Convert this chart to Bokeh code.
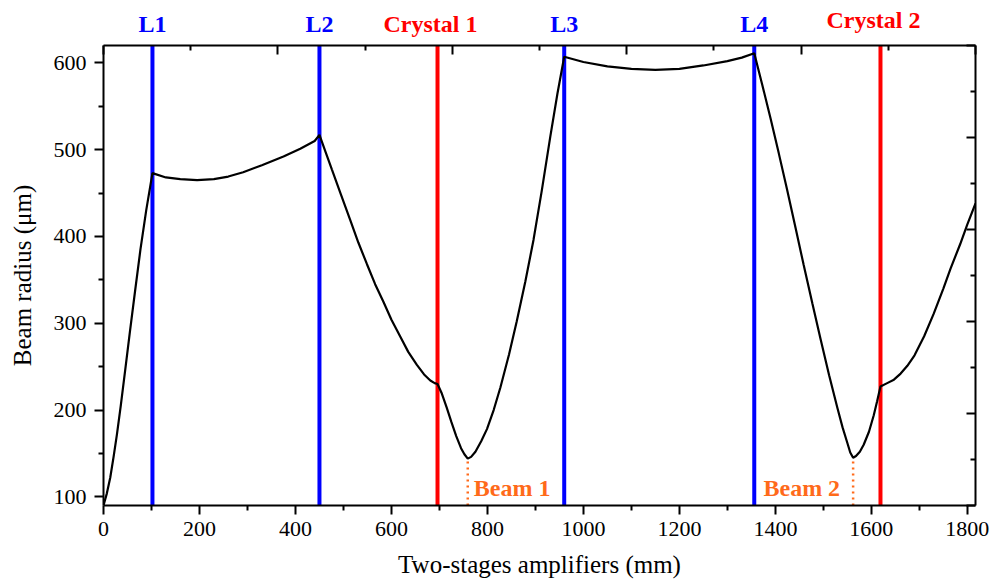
from bokeh.plotting import figure
from bokeh.layouts import column
from bokeh.models import (Range1d, LinearAxis, FixedTicker, Span, Label, CustomJSTickFormatter)
from bokeh.core.properties import value
from bokeh.embed import file_html
from bokeh.resources import INLINE

# ---- data ----
x_mm = [0, 7, 14, 21, 28, 36, 45, 55, 66, 77, 89, 102,
        130, 160, 195, 230, 260, 291, 330, 375, 410, 440, 450,
        463, 476, 495, 514, 531, 549, 566, 583, 600, 618, 635, 653, 668, 681, 690, 696,
        705, 715, 725, 735, 745, 752, 759, 766, 775, 787, 799, 813, 827, 845, 861, 879,
        896, 913, 931, 946, 960,
        1000, 1050, 1100, 1150, 1200, 1250, 1300, 1330, 1356,
        1373, 1390, 1407, 1424, 1442, 1459, 1477, 1494, 1512, 1529, 1540, 1550, 1556,
        1562, 1568, 1576, 1584, 1595, 1605, 1612, 1619,
        1633, 1647, 1661, 1675, 1690, 1710, 1730, 1750, 1765, 1785, 1800, 1817]
radius_um = [90, 104, 122, 146, 172, 205, 245, 290, 338, 385, 430, 473,
             468, 466, 465, 466, 469, 474, 482, 492, 501, 510, 517,
             497, 477, 448, 419, 393, 368, 345, 325, 304, 285, 267, 252, 241, 234, 231, 230,
             219, 203, 186, 170, 156, 149, 144, 146, 152, 164, 178, 200, 226, 264, 302, 348,
             396, 452, 515, 565, 607,
             601, 596, 593, 592, 593, 597, 602, 606, 611,
             574, 536, 496, 455, 410, 367, 323, 282, 240, 203, 180, 162, 151,
             145, 147, 152, 160, 175, 194, 210, 227,
             231, 235, 242, 251, 263, 285, 311, 340, 363, 391, 414, 438]

lens_names = ["L1", "L2", "L3", "L4"]
lens_pos = [102, 450, 960, 1356]
crystal_names = ["Crystal 1", "Crystal 2"]
crystal_pos = [696, 1619]
beam_names = ["Beam 1", "Beam 2"]
beam_pos = [759, 1562]
beam_radius = [144, 144]

x_ticks = [0, 200, 400, 600, 800, 1000, 1200, 1400, 1600, 1800]
y_ticks = [100, 200, 300, 400, 500, 600]

FONT = "Liberation Serif"
BLUE = "#0000FF"
RED = "#FF0000"
ORANGE = "#FF6A1A"

x_range = Range1d(0, 1817)

# ---- strip above the frame holding the element names ----
head = figure(width=1003, height=40, x_range=x_range, y_range=Range1d(0, 40),
              output_backend="svg", toolbar_location=None,
              x_axis_location=None, y_axis_location=None,
              min_border_left=103, min_border_right=28, min_border_top=0, min_border_bottom=0)
head.xgrid.visible = False
head.ygrid.visible = False
head.outline_line_color = None
head.text(x=lens_pos, y=[17] * len(lens_pos), text=lens_names, text_align="center",
          text_baseline="alphabetic", text_color=BLUE, text_font=value(FONT),
          text_font_size="24px", text_font_style="bold")
head.text(x=crystal_pos, y=[17, 21], text=crystal_names, text_align="center", x_offset=-7,
          text_baseline="alphabetic", text_color=RED, text_font=value(FONT),
          text_font_size="24px", text_font_style="bold")

# ---- main plot ----
p = figure(width=1003, height=542, x_range=x_range, y_range=Range1d(90, 620),
           output_backend="svg", toolbar_location=None,
           min_border_left=103, min_border_right=28, min_border_top=5, min_border_bottom=77)
p.xgrid.visible = False
p.ygrid.visible = False
p.outline_line_color = None
p.background_fill_color = "white"
p.border_fill_color = "white"

def style_axis(ax):
    ax.axis_line_color = "black"
    ax.axis_line_width = 2
    ax.major_tick_line_color = "black"
    ax.minor_tick_line_color = "black"
    ax.major_tick_line_width = 2
    ax.minor_tick_line_width = 2
    ax.major_label_text_font = FONT
    ax.major_label_text_font_size = "22px"
    ax.major_label_text_color = "black"
    ax.axis_label_text_font = FONT
    ax.axis_label_text_font_size = "25px"
    ax.axis_label_text_font_style = "normal"
    ax.axis_label_text_color = "black"

xa = p.xaxis[0]
xa.ticker = FixedTicker(ticks=x_ticks, minor_ticks=[t + 100 for t in x_ticks])
xa.axis_label = "Two-stages amplifiers (mm)"
style_axis(xa)
xa.major_tick_out = 9
xa.major_tick_in = 0
xa.minor_tick_out = 5
xa.minor_tick_in = 0
xa.major_label_standoff = 7
xa.axis_label_standoff = 12

ya = p.yaxis[0]
ya.ticker = FixedTicker(ticks=y_ticks, minor_ticks=[t + 50 for t in y_ticks])
ya.axis_label = "Beam radius (μm)"
style_axis(ya)
ya.major_tick_out = 9
ya.major_tick_in = 0
ya.minor_tick_out = 5
ya.minor_tick_in = 0
ya.major_label_standoff = 8
ya.axis_label_standoff = 15

# mirrored frame axes (top / right) with inward ticks, no labels
p.extra_x_ranges = {"top": Range1d(0, 10)}
p.extra_y_ranges = {"right": Range1d(0, 10)}
top = LinearAxis(x_range_name="top", ticker=FixedTicker(ticks=[0, 2, 4, 6, 8, 10], minor_ticks=[1, 3, 5, 7, 9]),
                 formatter=CustomJSTickFormatter(code="return ''"))
right = LinearAxis(y_range_name="right", ticker=FixedTicker(ticks=[0, 2, 4, 6, 8, 10], minor_ticks=[1, 3, 5, 7, 9]),
                   formatter=CustomJSTickFormatter(code="return ''"))
for ax in (top, right):
    style_axis(ax)
    ax.major_tick_in = 9
    ax.major_tick_out = 0
    ax.minor_tick_in = 5
    ax.minor_tick_out = 0
    ax.major_label_standoff = 0
    ax.major_label_text_font_size = "1px"
p.add_layout(top, "above")
p.add_layout(right, "right")

# vertical element lines (under the curve)
for xp in lens_pos:
    p.add_layout(Span(location=xp, dimension="height", line_color=BLUE, line_width=4, level="underlay"))
for xp in crystal_pos:
    p.add_layout(Span(location=xp, dimension="height", line_color=RED, line_width=4, level="underlay"))

# waist markers
p.segment(x0=beam_pos, y0=[90] * len(beam_pos), x1=beam_pos, y1=beam_radius,
          line_color=ORANGE, line_width=2.5, line_dash="2 4")

# beam radius curve
p.line(x_mm, radius_um, line_color="black", line_width=2.2)

p.add_layout(Label(x=beam_pos[0], y=110, x_offset=6, text=beam_names[0], text_align="left",
                   text_baseline="alphabetic", text_color=ORANGE, text_font=FONT,
                   text_font_size="24px", text_font_style="bold"))
p.add_layout(Label(x=beam_pos[1], y=110, x_offset=-13, text=beam_names[1], text_align="right",
                   text_baseline="alphabetic", text_color=ORANGE, text_font=FONT,
                   text_font_size="24px", text_font_style="bold"))

layout = column(head, p, spacing=0)
open("out.html", "w").write(file_html(layout, INLINE))
